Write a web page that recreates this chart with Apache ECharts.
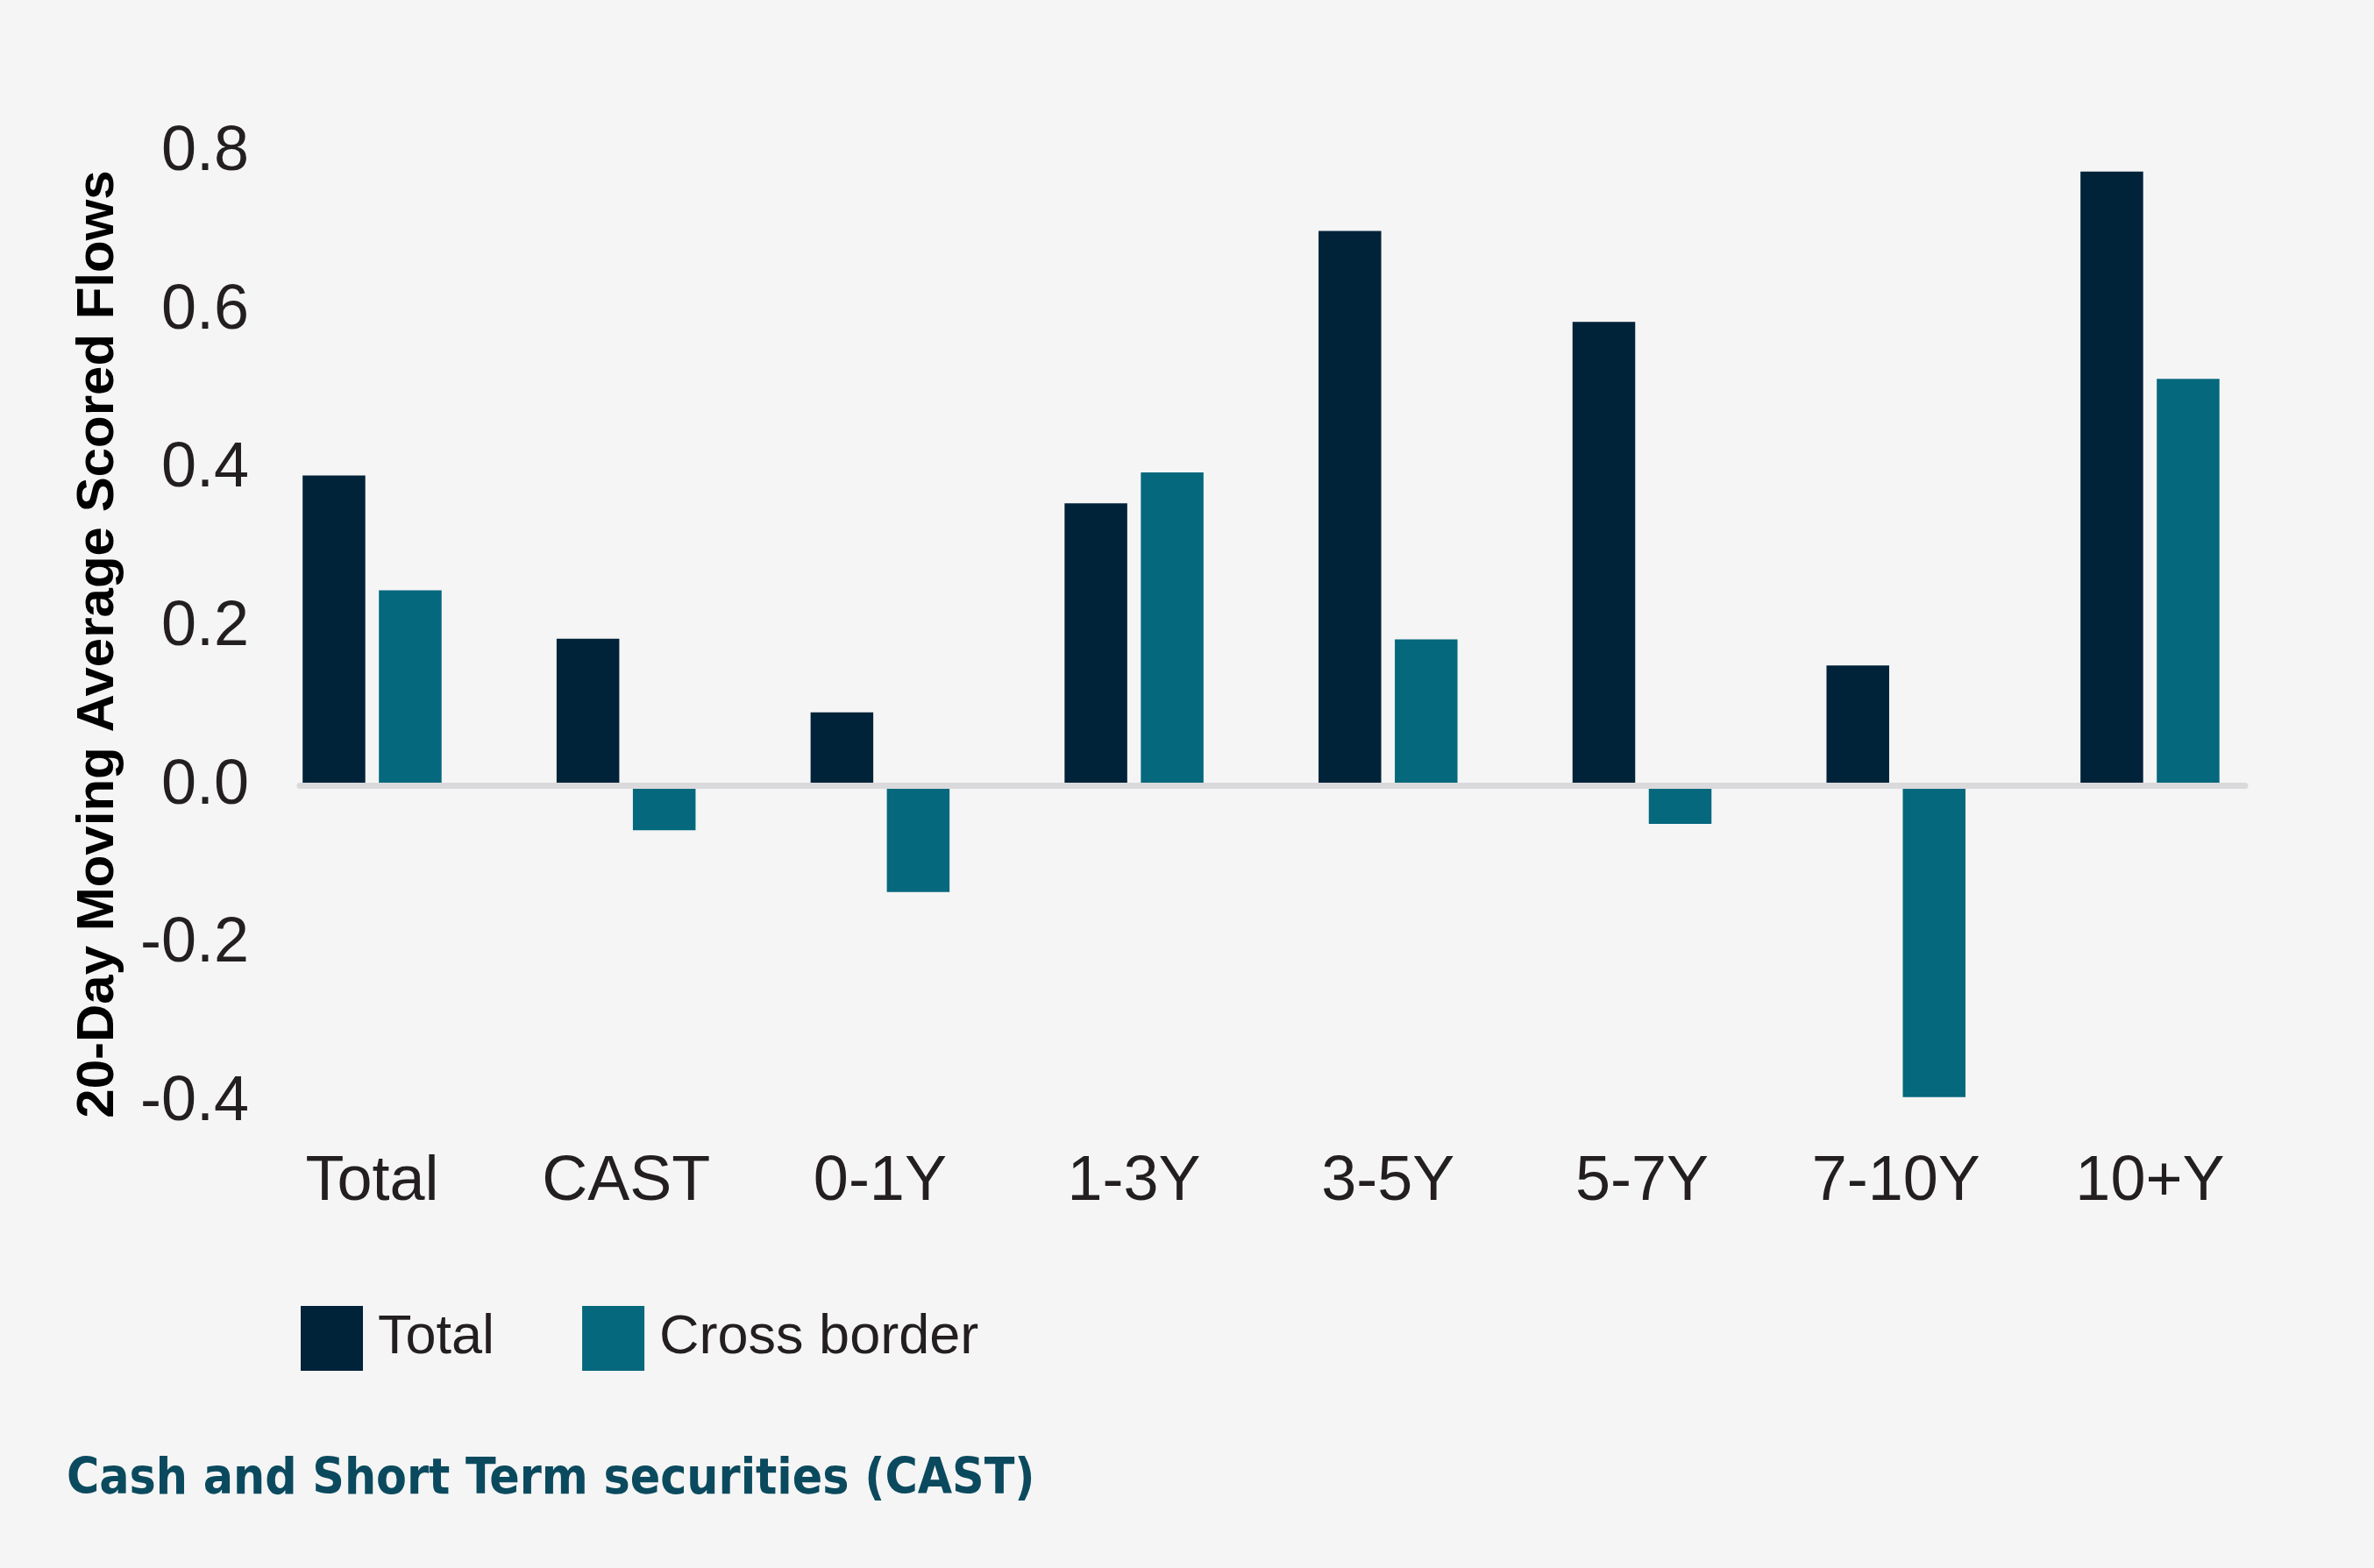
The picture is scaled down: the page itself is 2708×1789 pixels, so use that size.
<!DOCTYPE html>
<html>
<head>
<meta charset="utf-8">
<title>20-Day Moving Average Scored Flows</title>
<style>
  html, body { margin: 0; padding: 0; background: #f5f5f5; }
  #chart { width: 2708px; height: 1789px; }
</style>
<script src="https://cdn.jsdelivr.net/npm/echarts@6/dist/echarts.min.js"></script>
</head>
<body>
<div id="chart"></div>
<script>
// data
const categories = ['Total', 'CAST', '0-1Y', '1-3Y', '3-5Y', '5-7Y', '7-10Y', '10+Y']
const totalFlows = [0.392, 0.186, 0.093, 0.357, 0.701, 0.586, 0.152, 0.776]
const crossBorderFlows = [0.247, -0.056, -0.134, 0.396, 0.185, -0.048, -0.393, 0.514]
const seriesNames = ['Total', 'Cross border']
const yMin = -0.4
const yMax = 0.8
const yStep = 0.2

const colors = {
  total: '#01233a',
  cross: '#05687d',
  text: '#231f20',
  zero: '#dadadc',
  note: '#0b4a5e'
}
const labelFont = "'Liberation Sans', Arial, sans-serif"

const chart = echarts.init(document.getElementById('chart'))

const fmt = v => (Math.abs(v) < 1e-9 ? '0.0' : v.toFixed(1))

const option = {
  backgroundColor: '#f5f5f5',
  animation: false,
  textStyle: { fontFamily: labelFont },
  title: {
    text: 'Cash and Short Term securities (CAST)',
    left: 76,
    top: 1661,
    padding: 0,
    textStyle: {
      fontFamily: "'Liberation Sans Narrow', 'DejaVu Sans Condensed', Roboto, sans-serif",
      fontSize: 56.5,
      fontWeight: 'bold',
      color: colors.note
    }
  },
  legend: {
    left: 343,
    top: 1490,
    padding: 0,
    itemWidth: 71,
    itemHeight: 74,
    itemGap: 100,
    icon: 'rect',
    data: seriesNames,
    textStyle: { fontSize: 63, color: colors.text, padding: [0, 0, 0, 12] }
  },
  // grid 0 holds the bars, grid 1 only the value labels and the zero line
  grid: [
    { left: 279.6, right: 110.7, top: 174, bottom: 531 },
    { left: 342, right: 147, top: 174, bottom: 531 }
  ],
  xAxis: [
    {
      type: 'category',
      gridIndex: 0,
      data: categories,
      axisLine: { show: false },
      axisTick: { show: false },
      axisLabel: { fontSize: 72, color: colors.text, margin: 55 }
    },
    {
      type: 'value',
      gridIndex: 1,
      min: 0,
      max: 1,
      z: 10,
      axisLine: { show: true, onZero: true, lineStyle: { color: colors.zero, width: 7 } },
      axisTick: { show: false },
      axisLabel: { show: false },
      splitLine: { show: false }
    }
  ],
  yAxis: [
    {
      type: 'value',
      gridIndex: 0,
      min: yMin,
      max: yMax,
      interval: yStep,
      show: false,
      splitLine: { show: false }
    },
    {
      type: 'value',
      gridIndex: 1,
      min: yMin,
      max: yMax,
      interval: yStep,
      axisLine: { show: false },
      axisTick: { show: false },
      splitLine: { show: false },
      axisLabel: {
        fontSize: 72,
        color: colors.text,
        margin: 58,
        padding: [8, 0, 0, 0],
        formatter: fmt
      }
    }
  ],
  graphic: [
    {
      type: 'text',
      x: 112,
      y: 735,
      rotation: Math.PI / 2,
      style: {
        text: '20-Day Moving Average Scored Flows',
        fontFamily: labelFont,
        fontSize: 60,
        fontWeight: 'bold',
        fill: '#000',
        align: 'center',
        verticalAlign: 'middle'
      }
    }
  ],
  series: [
    {
      name: seriesNames[0],
      type: 'bar',
      xAxisIndex: 0,
      yAxisIndex: 0,
      data: totalFlows,
      barWidth: 71.5,
      barGap: '21.7%',
      itemStyle: { color: colors.total }
    },
    {
      name: seriesNames[1],
      type: 'bar',
      xAxisIndex: 0,
      yAxisIndex: 0,
      data: crossBorderFlows,
      barWidth: 71.5,
      itemStyle: { color: colors.cross }
    }
  ]
}

chart.setOption(option)
</script>
</body>
</html>
